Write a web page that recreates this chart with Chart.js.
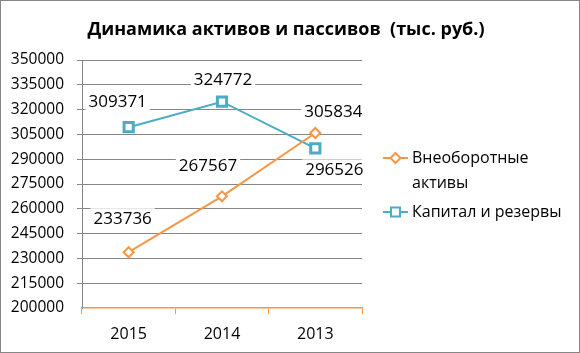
<!DOCTYPE html>
<html>
<head>
<meta charset="utf-8">
<script src="https://cdn.jsdelivr.net/npm/chart.js@4"></script>
<style>
  html, body { margin: 0; padding: 0; background: #fff; }
  #wrap { width: 580px; height: 353px; position: relative; }
</style>
</head>
<body>
<div id="wrap"><canvas id="myChart" width="580" height="353"></canvas></div>
<script>
// data
const years = ['2015', '2014', '2013'];
const fixedAssets = [233736, 267567, 305834];
const capital = [309371, 324772, 296526];
const seriesNames = ['Внеоборотные активы', 'Капитал и резервы'];
const yMin = 200000, yMax = 350000, yStep = 15000;

// label offsets from the point (px), as Excel placed them
const labelShift = [
    [[-6, -33], [-14, -30], [18, -21]],
    [[-11, -25], [1, -22], [19, 22]]
];

const FONT = "'Open Sans', 'DejaVu Sans', sans-serif";
const orange = '#F79646';
const teal = '#4BACC6';
const gridGray = '#878787';

const extras = {
    id: 'extras',
    afterDatasetsDraw(chart) {
        const ctx = chart.ctx;
        ctx.save();
        ctx.font = '17px ' + FONT;
        ctx.textAlign = 'center';
        ctx.textBaseline = 'middle';
        chart.data.datasets.forEach((ds, di) => {
            const meta = chart.getDatasetMeta(di);
            meta.data.forEach((pt, i) => {
                const txt = String(ds.data[i]);
                const x = pt.x + labelShift[di][i][0];
                const y = pt.y + labelShift[di][i][1];
                const w = ctx.measureText(txt).width;
                ctx.fillStyle = '#fff';
                ctx.fillRect(x - w / 2 - 3, y - 11, w + 6, 22);
                ctx.fillStyle = '#000';
                ctx.fillText(txt, x, y);
            });
        });
        ctx.restore();
    },
    afterDraw(chart) {
        const ctx = chart.ctx;
        ctx.save();
        // title
        ctx.font = 'bold 18px ' + FONT;
        ctx.fillStyle = '#000';
        ctx.textAlign = 'center';
        ctx.textBaseline = 'middle';
        ctx.fillText('Динамика активов и пассивов  (тыс. руб.)', 286, 30);

        // legend
        const items = [
            { lines: ['Внеоборотные', 'активы'], y: 158, color: orange, style: 'diamond' },
            { lines: ['Капитал и резервы'], y: 212, color: teal, style: 'square' }
        ];
        ctx.font = '16px ' + FONT;
        ctx.textAlign = 'left';
        items.forEach(it => {
            ctx.strokeStyle = it.color;
            ctx.lineWidth = 2;
            ctx.beginPath();
            ctx.moveTo(383, it.y);
            ctx.lineTo(408, it.y);
            ctx.stroke();
            ctx.fillStyle = '#fff';
            ctx.beginPath();
            if (it.style === 'diamond') {
                ctx.moveTo(395.5, it.y - 5);
                ctx.lineTo(400.5, it.y);
                ctx.lineTo(395.5, it.y + 5);
                ctx.lineTo(390.5, it.y);
                ctx.closePath();
            } else {
                ctx.rect(391, it.y - 4.5, 9, 9);
            }
            ctx.fill();
            ctx.stroke();
            ctx.fillStyle = '#000';
            it.lines.forEach((ln, k) => ctx.fillText(ln, 412, it.y + k * 25));
        });

        // outer frame
        ctx.strokeStyle = '#868686';
        ctx.lineWidth = 1;
        ctx.strokeRect(0.5, 0.5, 579, 352);
        ctx.restore();
    }
};

const data = {
    labels: years,
    datasets: [{
        label: seriesNames[0],
        data: fixedAssets,
        borderColor: orange,
        backgroundColor: '#fff',
        borderWidth: 2,
        pointStyle: 'rectRot',
        pointRadius: 5,
        pointBorderWidth: 2,
        pointBackgroundColor: '#fff',
        pointBorderColor: orange
    }, {
        label: seriesNames[1],
        data: capital,
        borderColor: teal,
        backgroundColor: '#fff',
        borderWidth: 2,
        pointStyle: 'rect',
        pointRadius: 6.5,
        pointBorderWidth: 3,
        pointBackgroundColor: '#fff',
        pointBorderColor: teal
    }]
};

const config = {
    type: 'line',
    data,
    options: {
        responsive: false,
        animation: false,
        layout: { padding: { top: 60, right: 218, bottom: 0, left: 0 } },
        plugins: {
            legend: { display: false },
            title: { display: false },
            tooltip: { enabled: false }
        },
        scales: {
            x: {
                offset: true,
                grid: {
                    offset: true,
                    drawOnChartArea: false,
                    color: orange,
                    tickLength: 6,
                    lineWidth: 1
                },
                border: { color: orange, width: 1.5 },
                ticks: { color: '#000', font: { family: FONT, size: 16 }, padding: 11 },
                afterFit(s) { s.height = 45; }
            },
            y: {
                min: yMin,
                max: yMax,
                ticks: {
                    stepSize: yStep,
                    color: '#000',
                    font: { family: FONT, size: 15.5 },
                    padding: 13,
                    callback: v => String(v)
                },
                grid: {
                    color: ctx => ctx.tick && ctx.tick.value === yMin ? 'rgba(0,0,0,0)' : gridGray,
                    tickLength: 5,
                    lineWidth: 1
                },
                border: { color: gridGray },
                afterFit(s) { s.width = 82; }
            }
        }
    },
    plugins: [extras]
};

var myChart = new Chart(document.getElementById('myChart'), config);
</script>
</body>
</html>
